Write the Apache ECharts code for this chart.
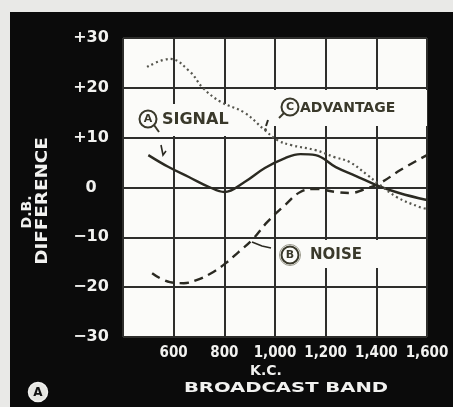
<!DOCTYPE html>
<html>
<head>
<meta charset="utf-8">
<script src="https://cdn.jsdelivr.net/npm/echarts@6/dist/echarts.min.js"></script>
<style>
  html, body { margin: 0; padding: 0; background: #e9e9e7; }
  #frame { position: absolute; left: 10px; top: 12px; width: 443px; height: 395px; background: #0b0b0b; }
  #chart { position: absolute; left: 0; top: 0; width: 453px; height: 407px; }
</style>
</head>
<body>
<div id="frame"></div>
<div id="chart"></div>
<script>
// Frequency across the broadcast band (kc) and level difference (db)
const xTicks = [400, 600, 800, 1000, 1200, 1400, 1600];
const yTicks = [-30, -20, -10, 0, 10, 20, 30];

// (A) Signal — solid curve
const signalKc = [500, 580, 660, 740, 800, 880, 960, 1040, 1100, 1160, 1240, 1320, 1400, 1490, 1600];
const signalDb = [6.5, 4.1, 2.1, 0.1, -0.9, 1.1, 3.9, 5.9, 6.7, 6.5, 4.1, 2.3, 0.5, -1.1, -2.5];

// (B) Noise — dashed curve
const noiseKc = [515, 585, 640, 690, 755, 810, 855, 910, 970, 1040, 1100, 1160, 1240, 1300, 1345, 1415, 1495, 1600];
const noiseDb = [-17.2, -19, -19.2, -18.6, -17, -15, -13, -10.5, -6.9, -3.5, -0.9, -0.3, -0.9, -1.1, -0.5, 0.9, 3.5, 6.5];

// (C) Advantage — dotted curve
const advKc = [495, 585, 665, 715, 785, 880, 960, 1010, 1065, 1160, 1235, 1295, 1365, 1405, 1480, 1570, 1600];
const advDb = [24.2, 25.8, 23.2, 20, 17.2, 15, 11.5, 9.5, 8.5, 7.5, 6.1, 5.1, 2.5, 0.9, -1.9, -3.9, -4.3];

const pair = (xs, ys) => xs.map((x, i) => [x, ys[i]]);

const ink = '#2b2a22';
const labelInk = '#3a392b';
const white = '#f2f2f0';

function kcLabel(v) {
  if (v === xTicks[0]) return '';
  const s = String(v);
  return s.length > 3 ? s.slice(0, s.length - 3) + ',' + s.slice(-3) : s;
}
function dbLabel(v) {
  if (v > 0) return '+' + v;
  if (v < 0) return '\u2212' + Math.abs(v);
  return '0';
}

function circled(cx, cy, letter, extra) {
  const els = [
    { type: 'circle', shape: { cx: cx, cy: cy, r: 8.5 }, style: { fill: 'none', stroke: labelInk, lineWidth: 2 }, z: 5 },
    { type: 'text', x: cx, y: cy + 0.5, style: { text: letter, fill: labelInk, font: 'bold 11px "DejaVu Sans"', align: 'center', verticalAlign: 'middle' }, z: 5 }
  ];
  return els.concat(extra || []);
}

const chart = echarts.init(document.getElementById('chart'), null, { renderer: 'canvas' });

chart.setOption({
  backgroundColor: 'transparent',
  animation: false,
  grid: {
    left: 123, right: 26, top: 38, bottom: 70,
    show: true, backgroundColor: '#fbfbf9', borderWidth: 0
  },
  xAxis: {
    type: 'value',
    min: xTicks[0], max: xTicks[xTicks.length - 1], interval: 200,
    axisLine: { show: false }, axisTick: { show: false },
    splitLine: { show: true, lineStyle: { color: '#2e2e2c', width: 2 } },
    axisLabel: {
      formatter: kcLabel, color: white, margin: 9,
      fontFamily: '"DejaVu Sans Condensed", "DejaVu Sans"', fontWeight: 'bold', fontSize: 15
    }
  },
  yAxis: {
    type: 'value',
    min: yTicks[0], max: yTicks[yTicks.length - 1], interval: 10,
    axisLine: { show: false }, axisTick: { show: false },
    splitLine: { show: true, lineStyle: { color: '#2e2e2c', width: 2 } },
    axisLabel: {
      formatter: dbLabel, color: white, margin: 32, align: 'center',
      fontFamily: '"DejaVu Sans"', fontWeight: 'bold', fontSize: 16
    }
  },
  series: [
    {
      name: 'Signal', type: 'line', data: pair(signalKc, signalDb), smooth: 0.4,
      showSymbol: false, z: 10,
      lineStyle: { color: ink, width: 2.4 }
    },
    {
      name: 'Noise', type: 'line', data: pair(noiseKc, noiseDb), smooth: 0.4,
      showSymbol: false, z: 10,
      lineStyle: { color: ink, width: 2.4, type: [9, 6] }
    },
    {
      name: 'Advantage', type: 'line', data: pair(advKc, advDb), smooth: 0.4,
      showSymbol: false, z: 10,
      lineStyle: { color: '#55554d', width: 2.2, type: [2, 3] }
    }
  ],
  graphic: [].concat(
    // white patches behind the curve labels
    [
      { type: 'rect', shape: { x: 128, y: 104, width: 112, height: 32 }, style: { fill: '#fbfbf9' }, z: 1 },
      { type: 'rect', shape: { x: 272, y: 90, width: 155, height: 36 }, style: { fill: '#fbfbf9' }, z: 1 },
      { type: 'rect', shape: { x: 278, y: 240, width: 122, height: 28 }, style: { fill: '#fbfbf9' }, z: 1 }
    ],
    // (A) SIGNAL
    circled(148, 119, 'A', [
      { type: 'line', shape: { x1: 154, y1: 125, x2: 159, y2: 132 }, style: { stroke: labelInk, lineWidth: 2 }, z: 5 },
      { type: 'text', x: 162, y: 120, style: { text: 'SIGNAL', fill: labelInk, font: 'bold 16px "DejaVu Sans"', verticalAlign: 'middle' }, z: 5 },
      { type: 'polyline', shape: { points: [[161, 145], [163, 155], [166, 151]] }, style: { stroke: ink, lineWidth: 1.6, fill: 'none' }, z: 5 }
    ]),
    // (C) ADVANTAGE
    circled(290, 107, 'C', [
      { type: 'line', shape: { x1: 284, y1: 113, x2: 279, y2: 118 }, style: { stroke: labelInk, lineWidth: 2 }, z: 5 },
      { type: 'text', x: 300, y: 108, style: { text: 'ADVANTAGE', fill: labelInk, font: 'bold 14px "DejaVu Sans"', verticalAlign: 'middle' }, z: 5 },
      { type: 'line', shape: { x1: 268, y1: 120, x2: 266, y2: 126 }, style: { stroke: ink, lineWidth: 2 }, z: 5 },
      { type: 'circle', shape: { cx: 265.5, cy: 129.5, r: 1.2 }, style: { fill: ink }, z: 5 }
    ]),
    // (B) NOISE
    circled(290, 255, 'B', [
      { type: 'circle', shape: { cx: 290, cy: 255, r: 10.5 }, style: { fill: 'none', stroke: '#9a998c', lineWidth: 1 }, z: 5 },
      { type: 'text', x: 310, y: 255, style: { text: 'NOISE', fill: labelInk, font: 'bold 15px "DejaVu Sans"', verticalAlign: 'middle' }, z: 5 },
      { type: 'polyline', shape: { points: [[252, 242], [262, 246], [271, 248]] }, style: { stroke: ink, lineWidth: 1.6, fill: 'none' }, z: 5 }
    ]),
    // axis titles on the black frame
    [
      { type: 'text', x: 27, y: 212, rotation: Math.PI / 2,
        style: { text: 'D.B.', fill: white, font: 'bold 14px "DejaVu Sans"', align: 'center', verticalAlign: 'middle' }, z: 5 },
      { type: 'text', x: 43, y: 201, rotation: Math.PI / 2, scaleX: 1.22,
        style: { text: 'DIFFERENCE', fill: white, font: 'bold 15px "DejaVu Sans"', align: 'center', verticalAlign: 'middle' }, z: 5 },
      { type: 'text', x: 266, y: 371,
        style: { text: 'K.C.', fill: white, font: 'bold 14px "DejaVu Sans"', align: 'center', verticalAlign: 'middle' }, z: 5 },
      { type: 'text', x: 286, y: 388, scaleX: 1.4,
        style: { text: 'BROADCAST BAND', fill: white, font: 'bold 14px "DejaVu Sans"', align: 'center', verticalAlign: 'middle' }, z: 5 },
      { type: 'circle', shape: { cx: 38, cy: 392, r: 9.5 }, style: { fill: '#e6e6e2', stroke: white, lineWidth: 1.5 }, z: 5 },
      { type: 'text', x: 38, y: 393, style: { text: 'A', fill: '#111', font: 'bold 12px "DejaVu Sans"', align: 'center', verticalAlign: 'middle' }, z: 6 }
    ]
  )
});
</script>
</body>
</html>
